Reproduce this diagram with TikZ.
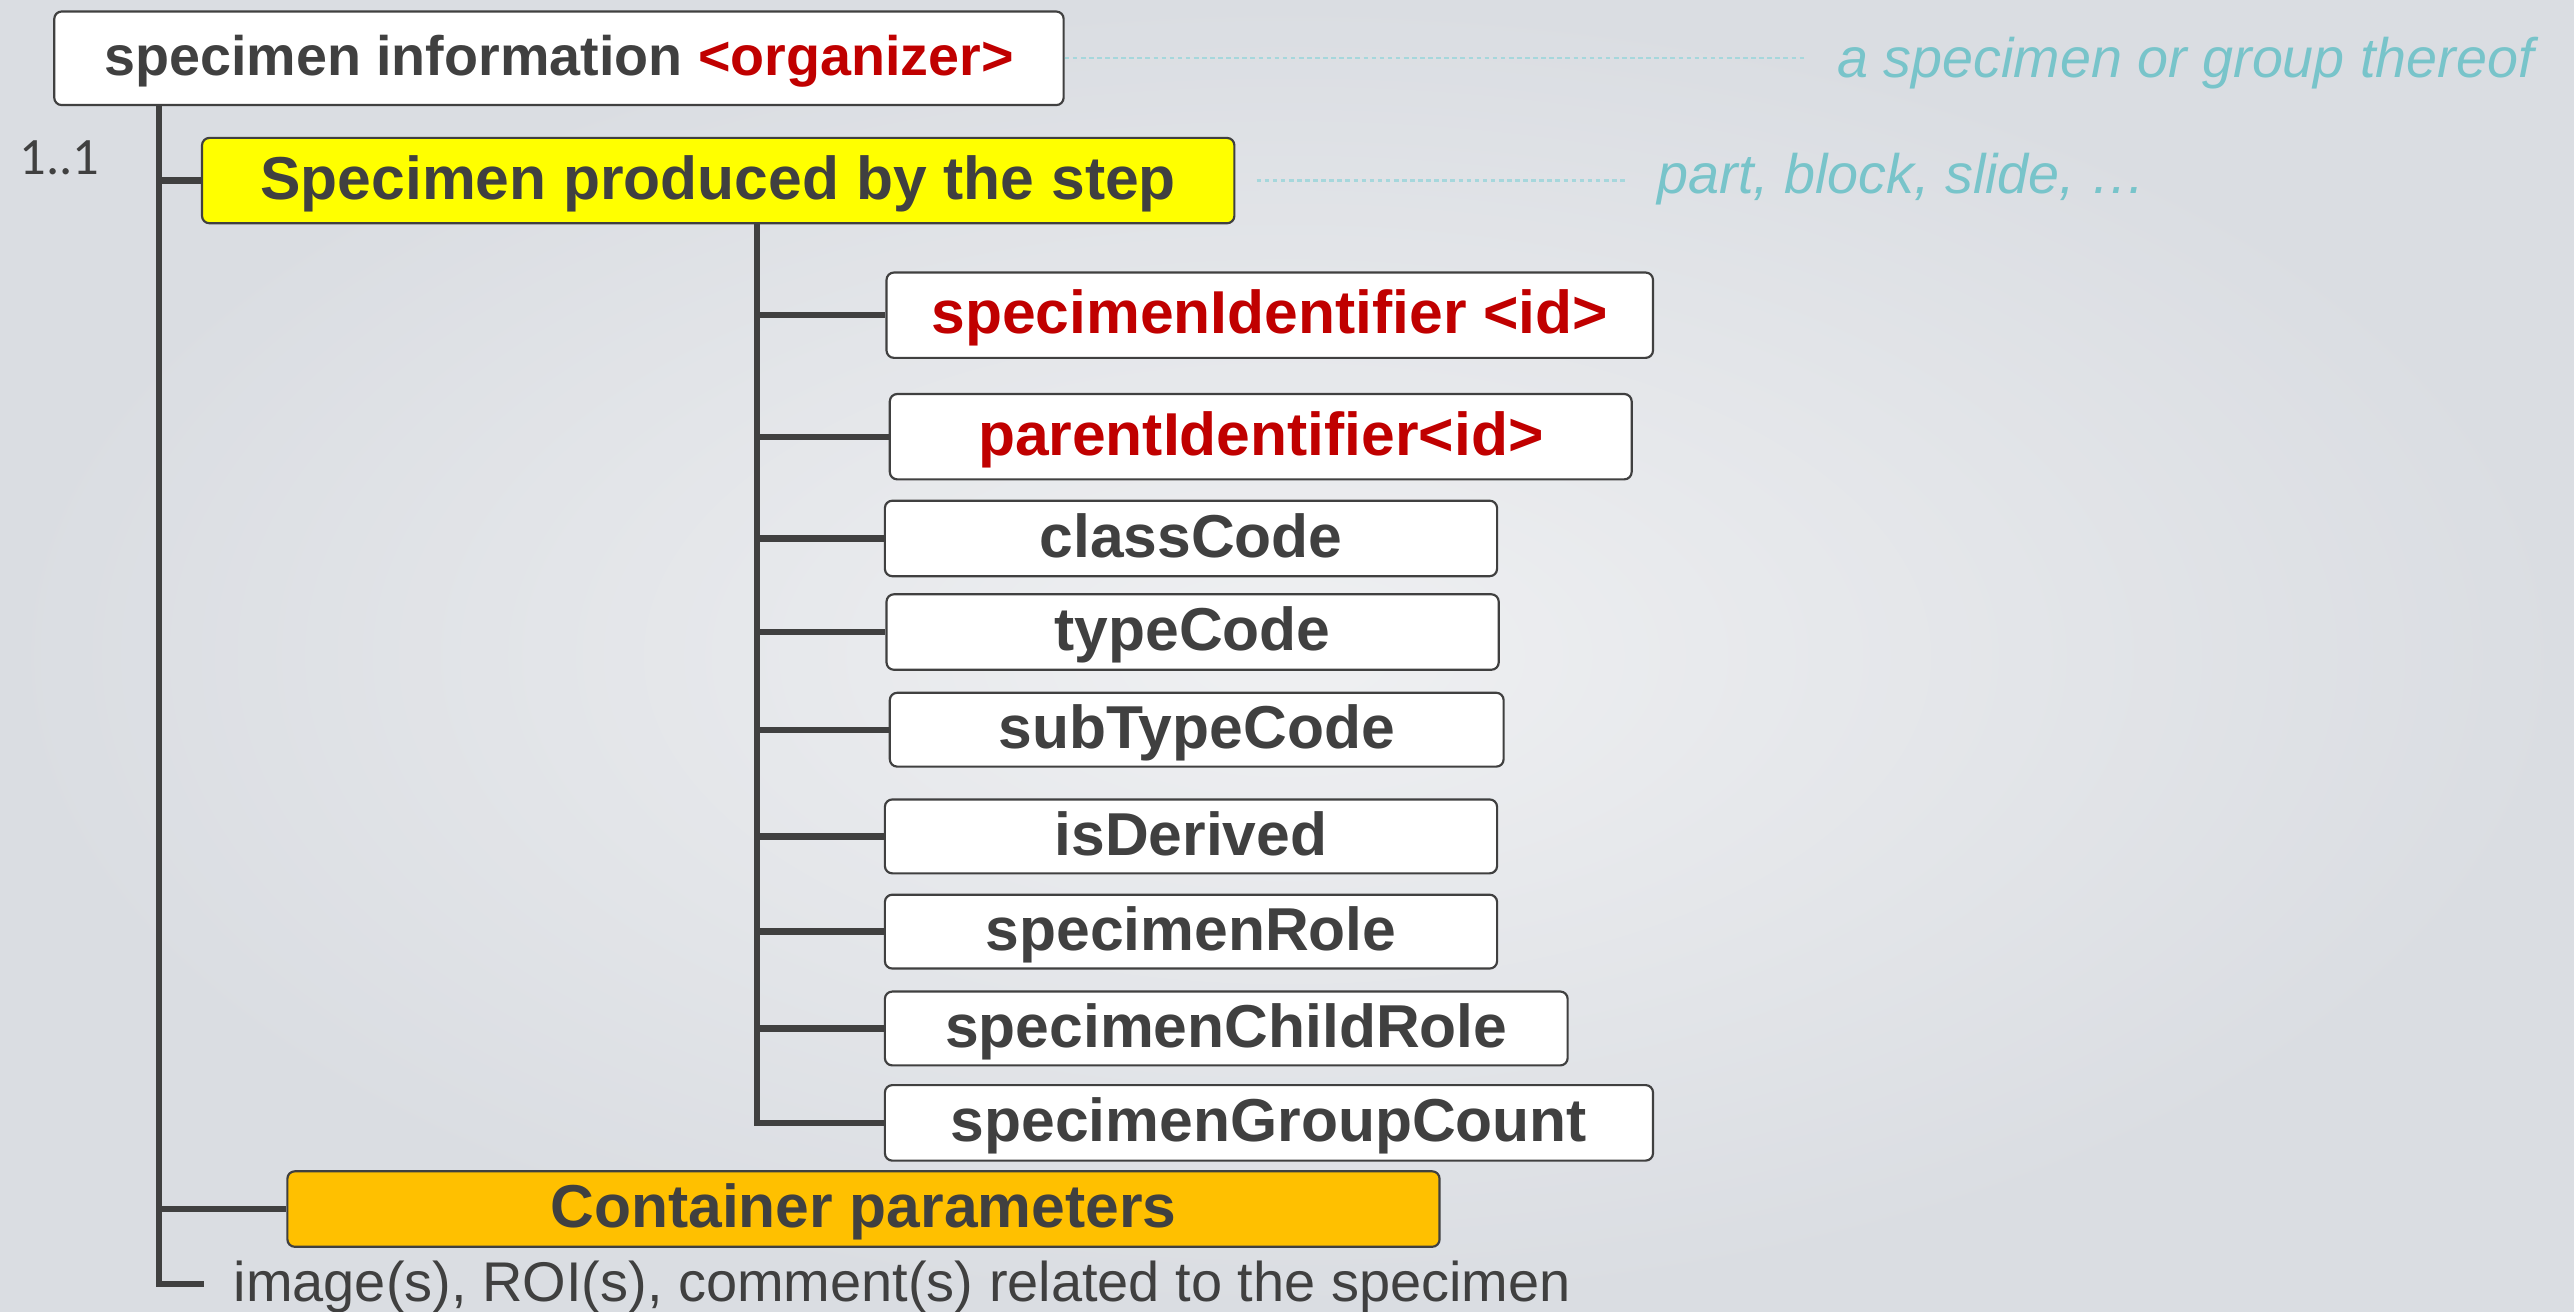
\documentclass[tikz,border=0pt]{standalone}
\usepackage{fontspec}
\setmainfont{Liberation Sans}
\newfontfamily\numfont{Carlito}
\usetikzlibrary{calc}
\definecolor{ink}{HTML}{404040}
\definecolor{idred}{HTML}{C00000}
\definecolor{notetext}{HTML}{78C4CA}
\definecolor{noteline}{HTML}{A6D7DC}
\definecolor{stepyellow}{HTML}{FFFF00}
\definecolor{contorange}{HTML}{FFC000}
\definecolor{bgout}{HTML}{DADDE2}
\definecolor{bgin}{HTML}{EFF0F2}
\begin{document}
\begin{tikzpicture}[x=0.02cm,y=-0.02cm,
  elem/.style={rectangle, draw=ink, line width=0.75pt, rounded corners=0.09cm,
    fill=white, inner sep=0pt, text=ink,
    font=\fontsize{21}{25}\selectfont\bfseries,
    text height=16pt, text depth=3pt},
  rootbox/.style={elem, font=\fontsize{19.3}{23}\selectfont\bfseries,
    text height=14.5pt, text depth=2.5pt},
  trunk/.style={draw=ink, line width=2.2pt},
  guide/.style={draw=noteline, line width=0.8pt, dash pattern=on 1.6pt off 1.2pt},
  remark/.style={text=notetext, inner sep=0pt, anchor=base west,
    font=\fontsize{19.3}{23}\selectfont\itshape},
]
% background
\fill[inner color=bgin, outer color=bgout] (0,0) rectangle (1568,799);
\useasboundingbox (0,0) rectangle (1568,799);

% helper columns of the two trunks
\coordinate (ax) at (97,0);
\coordinate (bx) at (461,0);

% root and first level
\node[rootbox, minimum width=12.30cm, minimum height=1.14cm] (root) at (340.5,35.5)
  {specimen information \textcolor{idred}{<organizer>}};
\node[elem, fill=stepyellow, minimum width=12.58cm, minimum height=1.04cm] (step) at (437.5,110)
  {Specimen produced by the step};
\node[elem, fill=contorange, minimum width=14.04cm, minimum height=0.92cm] (cont) at (526,736.5)
  {Container parameters};

% attributes of the specimen
\node[elem, text=idred, minimum width=9.34cm, minimum height=1.04cm] (c1) at (773.5,192) {specimenIdentifier <id>};
\node[elem, text=idred, minimum width=9.04cm, minimum height=1.04cm] (c2) at (768,266) {parentIdentifier<id>};
\node[elem, minimum width=7.46cm, minimum height=0.92cm] (c3) at (725.5,328) {classCode};
\node[elem, minimum width=7.46cm, minimum height=0.92cm] (c4) at (726.5,385) {typeCode};
\node[elem, minimum width=7.48cm, minimum height=0.90cm] (c5) at (729,444.5) {subTypeCode};
\node[elem, minimum width=7.46cm, minimum height=0.90cm] (c6) at (725.5,509.5) {isDerived};
\node[elem, minimum width=7.46cm, minimum height=0.90cm] (c7) at (725.5,567.5) {specimenRole};
\node[elem, minimum width=8.32cm, minimum height=0.90cm] (c8) at (747,626.5) {specimenChildRole};
\node[elem, minimum width=9.36cm, minimum height=0.92cm] (c9) at (773,684) {specimenGroupCount};

% labels
\node[inner sep=0pt, anchor=base west, text=ink, font=\numfont\fontsize{18.2}{22}\selectfont] (card) at (11.5,106) {1..1};
\node[inner sep=0pt, anchor=base west, text=ink, font=\fontsize{19.4}{23}\selectfont] (note) at (142,793)
  {image(s), ROI(s), comment(s) related to the specimen};
\node[remark] (r1) at (1119,47.5) {a specimen or group thereof};
\node[remark] (r2) at (1009.5,118) {part, block, slide, \dots};

% explanatory guides
\coordinate (g1) at (1100,35.5);
\coordinate (g2a) at (765.5,110);
\coordinate (g2b) at (991.5,110);
\draw[guide] (root.east) -- (g1);
\draw[guide] (g2a) -- (g2b);

% trunks and branches
\coordinate (stub) at (124,782);
\draw[trunk] (root.south -| ax) |- (stub);
\draw[trunk] (step.west -| ax) -- (step.west);
\draw[trunk] (cont.west -| ax) -- (cont.west);
\draw[trunk] (step.south -| bx) |- (c9.west);
\foreach \k in {1,...,8} {\draw[trunk] (c\k.west -| bx) -- (c\k.west);}
\end{tikzpicture}
\end{document}
